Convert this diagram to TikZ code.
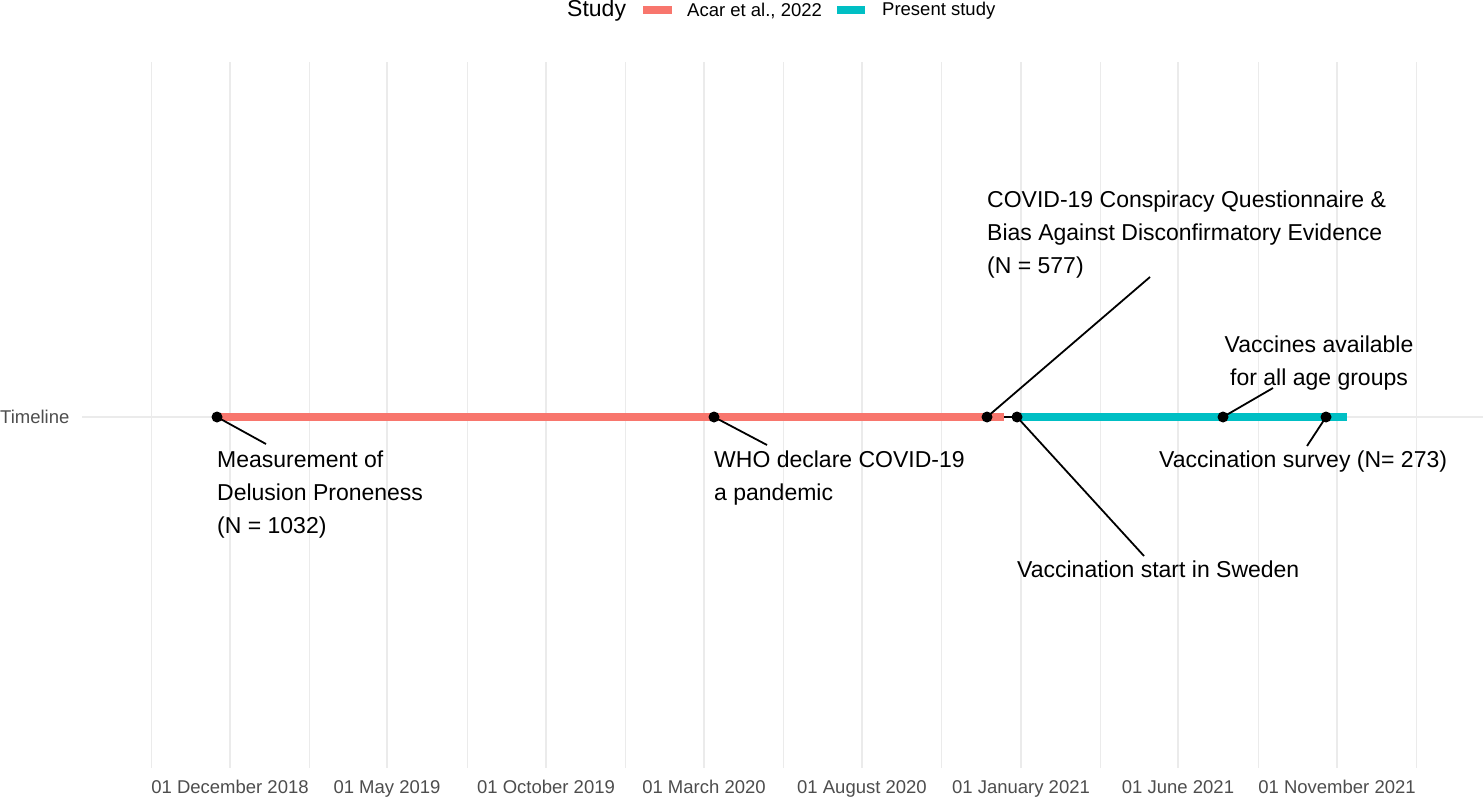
\documentclass[tikz,border=0pt]{standalone}
\usepackage{fontspec}
\setmainfont{Liberation Sans}
\definecolor{acar}{HTML}{F8766D}
\definecolor{present}{HTML}{00BFC4}
\definecolor{gridc}{HTML}{EBEBEB}
\definecolor{axtext}{HTML}{4D4D4D}
\begin{document}
\begin{tikzpicture}[x=1pt,y=-1pt,
  majgrid/.style={draw=gridc,line width=1.6pt},
  mingrid/.style={draw=gridc,line width=0.9pt},
  evdot/.style={circle,fill=black,inner sep=0pt,minimum size=11pt},
  lbl/.style={inner sep=0pt,font=\fontsize{23}{33}\selectfont,text=black},
  ticklbl/.style={inner sep=0pt,font=\fontsize{18.5}{22}\selectfont,text=axtext,anchor=base},
  legtxt/.style={inner sep=0pt,font=\fontsize{18.5}{22}\selectfont,text=black,anchor=west},
  leader/.style={draw=black,line width=1.8pt},
  barline/.style={line width=8.5pt}]
\useasboundingbox (0,0) rectangle (1483,800);
% grid
\foreach \x in {151,309,467,625,783,941,1100,1258,1416}
  \draw[mingrid] (\x,62) -- (\x,768);
\foreach \x in {230,387,546,704,862,1021,1178,1337}
  \draw[majgrid] (\x,62) -- (\x,768);
\draw[majgrid] (82,417) -- (1483,417);
% axis labels
\node[inner sep=0pt,anchor=west,font=\fontsize{18.5}{22}\selectfont,text=axtext] (ylab) at (0,417) {Timeline};
\foreach \x/\t [count=\i] in {230/01 December 2018,387/01 May 2019,546/01 October 2019,704/01 March 2020,862/01 August 2020,1021/01 January 2021,1178/01 June 2021,1337/01 November 2021}
  \node[ticklbl] (tick\i) at (\x,793) {\t};
% legend
\node[inner sep=0pt,anchor=west,font=\fontsize{23}{27}\selectfont] (legtitle) at (567,11) {Study};
\coordinate (ka1) at (643,10); \coordinate (ka2) at (672,10);
\draw[acar,line width=7.5pt] (ka1) -- (ka2);
\node[legtxt] (legacar) at (687,11) {Acar et al., 2022};
\coordinate (kp1) at (837,10); \coordinate (kp2) at (865,10);
\draw[present,line width=7.5pt] (kp1) -- (kp2);
\node[legtxt] (legpres) at (882,11) {Present study};
% event points
\coordinate (m) at (217,417);
\coordinate (w) at (714,417);
\coordinate (c) at (987,417);
\coordinate (acarend) at (1004,417);
\coordinate (vs) at (1017,417);
\coordinate (va) at (1223,417);
\coordinate (sv) at (1326,417);
\coordinate (presend) at (1347,417);
% bars
\draw[barline,acar] (m) -- (acarend);
\draw[barline,present] (vs) -- (presend);
\draw[black,line width=1.8pt] (acarend) -- (vs);
% leaders
\coordinate (mL) at (266,444);
\coordinate (wL) at (767,445);
\coordinate (cL) at (1150,277);
\coordinate (vsL) at (1144,556);
\coordinate (vaL) at (1273,388);
\coordinate (svL) at (1307,446);
\draw[leader] (m) -- (mL);
\draw[leader] (w) -- (wL);
\draw[leader] (c) -- (cL);
\draw[leader] (vs) -- (vsL);
\draw[leader] (va) -- (vaL);
\draw[leader] (sv) -- (svL);
% dots
\node[evdot] (dm) at (m) {};
\node[evdot] (dw) at (w) {};
\node[evdot] (dc) at (c) {};
\node[evdot] (dvs) at (vs) {};
\node[evdot] (dva) at (va) {};
\node[evdot] (dsv) at (sv) {};
% labels (base anchor = baseline of last line)
\node[lbl,align=left,anchor=base west] (tm) at (217,533) {Measurement of\\Delusion Proneness\\(N = 1032)};
\node[lbl,align=left,anchor=base west] (tw) at (714,500) {WHO declare COVID-19\\a pandemic};
\node[lbl,align=left,anchor=base west] (tc) at (987,273) {COVID-19 Conspiracy Questionnaire \&\\Bias Against Disconfirmatory Evidence\\(N = 577)};
\node[lbl,align=center,anchor=base] (tva) at (1319,385) {Vaccines available\\for all age groups};
\node[lbl,anchor=base west] (tsv) at (1159,467) {Vaccination survey (N= 273)};
\node[lbl,anchor=base west] (tvs) at (1017,577) {Vaccination start in Sweden};
\end{tikzpicture}
\end{document}
